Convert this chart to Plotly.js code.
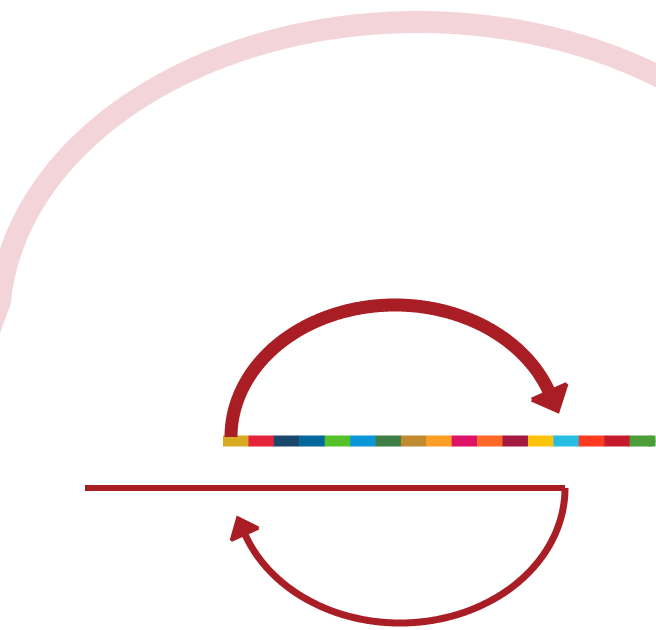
<!DOCTYPE html>
<html>
<head>
<meta charset="utf-8">
<script src="https://cdn.plot.ly/plotly-3.0.1.min.js"></script>
<style>html,body{margin:0;padding:0;background:#fff;}#chart{width:656px;height:630px;}</style>
</head>
<body>
<div id="chart"></div>
<script>
// 17 coloured segments of the bar, left to right
const segmentColors = ['#d8a923','#e5243b','#19486a','#00689d','#56c02b','#0a97d9','#3f7e44','#bf8b2e','#fd9d24','#dd1367','#fd6925','#a21942','#fcc30b','#26bde2','#ff3a21','#c5192d','#4c9f38'];
const segmentIndex = segmentColors.map((c, i) => i);

// Geometry of the drawing (page pixel space)
const barStart = 223, barEnd = 655, barY = 441, barThick = 11;
const bigRing = {cx: 418, cy: 322, rx: 419, ry: 300, t0: 25, t1: 176, tail: [-22, 60]};
const topArc = {cx: 395, cy: 437, rx: 164, ry: 132, t0: 180, t1: 20};
const bottomArc = {cx: 400, cy: 488, rx: 165, ry: 135, t0: 0, t1: 160};
const baseLine = {x0: 85, x1: 565, y: 488};

const red = '#a91d25';

function ellipse(e, sign, n) {
  const xs = [], ys = [];
  for (let k = 0; k <= n; k++) {
    const t = (e.t0 + (e.t1 - e.t0) * k / n) * Math.PI / 180;
    xs.push(e.cx + e.rx * Math.cos(t));
    ys.push(e.cy + sign * e.ry * Math.sin(t));
  }
  return {xs, ys};
}
function head(e, sign, len, wid) {
  const t = e.t1 * Math.PI / 180;
  const px = e.cx + e.rx * Math.cos(t), py = e.cy + sign * e.ry * Math.sin(t);
  const dirT = e.t1 > e.t0 ? 1 : -1;
  let dx = -e.rx * Math.sin(t) * dirT, dy = sign * e.ry * Math.cos(t) * dirT;
  const m = Math.hypot(dx, dy); dx /= m; dy /= m;
  const nx = -dy, ny = dx;
  return {
    x: [px + nx * wid / 2, px + dx * len, px - nx * wid / 2, px + nx * wid / 2],
    y: [py + ny * wid / 2, py + dy * len, py - ny * wid / 2, py + ny * wid / 2]
  };
}

const ring = ellipse(bigRing, -1, 720);
ring.xs.push(ring.xs[ring.xs.length - 1] + bigRing.tail[0]);
ring.ys.push(ring.ys[ring.ys.length - 1] + bigRing.tail[1]);
const topA = ellipse(topArc, -1, 400);
const botA = ellipse(bottomArc, 1, 400);
const topH = head(topArc, -1, 21, 38);
const botH = head(bottomArc, 1, 18, 30);

const segW = (barEnd - barStart) / segmentColors.length;

const traces = [
  {type: 'scatter', mode: 'lines', x: ring.xs, y: ring.ys, line: {color: '#f3d4d8', width: 22, simplify: false}, hoverinfo: 'skip'},
  {type: 'scatter', mode: 'lines', x: topA.xs, y: topA.ys, line: {color: red, width: 13, simplify: false}, hoverinfo: 'skip'},
  {type: 'scatter', mode: 'lines', x: topH.x, y: topH.y, fill: 'toself', fillcolor: red, line: {color: red, width: 4, simplify: false}, hoverinfo: 'skip'},
  {type: 'bar', orientation: 'h', y: segmentIndex.map(() => barY), x: segmentIndex.map(() => segW + 0.5),
   base: segmentIndex.map(i => barStart + i * segW), width: barThick,
   marker: {color: segmentColors, line: {width: 0}}, hoverinfo: 'skip'},
  {type: 'scatter', mode: 'markers', x: [barEnd - 5], y: [barY], marker: {color: segmentColors[16], size: barThick, line: {width: 0}}, hoverinfo: 'skip'},
  {type: 'scatter', mode: 'lines', x: [baseLine.x0, baseLine.x1], y: [baseLine.y, baseLine.y], line: {color: red, width: 6}, hoverinfo: 'skip'},
  {type: 'scatter', mode: 'lines', x: botA.xs, y: botA.ys, line: {color: red, width: 7, simplify: false}, hoverinfo: 'skip'},
  {type: 'scatter', mode: 'lines', x: botH.x, y: botH.y, fill: 'toself', fillcolor: red, line: {color: red, width: 3, simplify: false}, hoverinfo: 'skip'}
];

const layout = {
  width: 656, height: 630,
  margin: {l: 0, r: 0, t: 0, b: 0},
  paper_bgcolor: '#ffffff', plot_bgcolor: '#ffffff',
  showlegend: false, barmode: 'overlay',
  xaxis: {range: [0, 656], visible: false, fixedrange: true},
  yaxis: {range: [630, 0], visible: false, fixedrange: true}
};

Plotly.newPlot('chart', traces, layout, {displayModeBar: false, staticPlot: true});
</script>
</body>
</html>
